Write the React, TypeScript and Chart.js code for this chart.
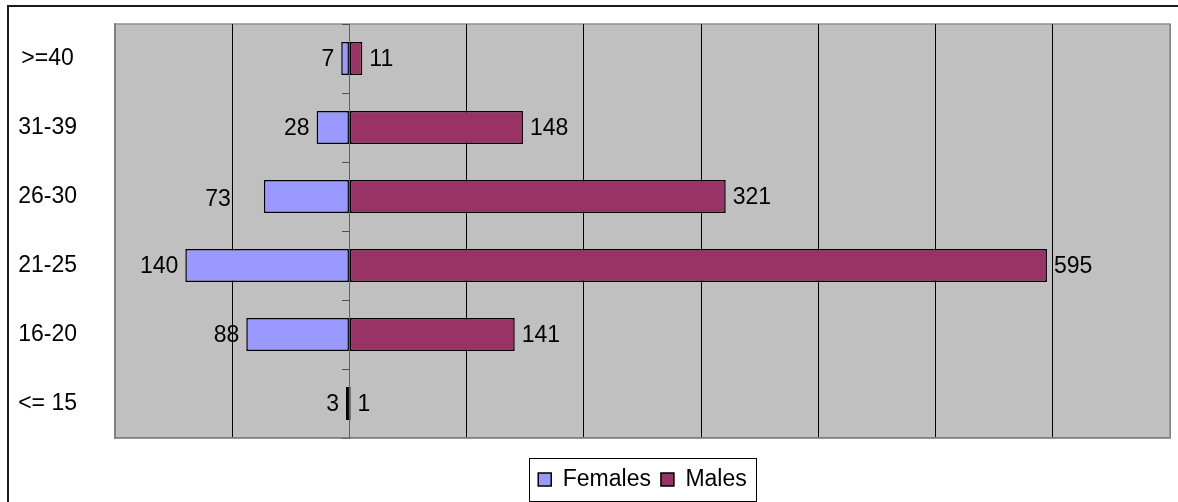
import React, { useEffect, useRef } from 'react';
import { Chart, registerables } from 'chart.js';

Chart.register(...registerables);

const ageGroups = ['>=40', '31-39', '26-30', '21-25', '16-20', '<= 15'];
const females = [7, 28, 73, 140, 88, 3];
const males = [11, 148, 321, 595, 141, 1];
const seriesNames = ['Females', 'Males'];
const axisMin = -200;
const axisMax = 700;
const axisStep = 100;

const FONT = "'Liberation Sans', Arial, Helvetica, sans-serif";
const FONT_SIZE = 23;

const plotBackground = {
  id: 'plotBackground',
  beforeDraw(chart: any) {
    const { ctx, chartArea } = chart;
    if (!chartArea) return;
    ctx.save();
    ctx.fillStyle = '#C0C0C0';
    ctx.fillRect(chartArea.left, chartArea.top, chartArea.right - chartArea.left, chartArea.bottom - chartArea.top);
    ctx.strokeStyle = '#909090';
    ctx.lineWidth = 1.5;
    ctx.strokeRect(chartArea.left, chartArea.top, chartArea.right - chartArea.left, chartArea.bottom - chartArea.top);
    ctx.restore();
  },
};

const valueLabels = {
  id: 'valueLabels',
  afterDatasetsDraw(chart: any, _args: any, opts: any) {
    const ctx = chart.ctx;
    const nudges: any[] = (opts && opts.nudges) || [];
    ctx.save();
    ctx.font = `${FONT_SIZE}px ${FONT}`;
    ctx.fillStyle = '#000';
    ctx.textBaseline = 'middle';
    chart.data.datasets.forEach((ds: any, di: number) => {
      const meta = chart.getDatasetMeta(di);
      meta.data.forEach((el: any, i: number) => {
        const v = ds.data[i] as number;
        const { x, y } = el.getProps(['x', 'y'], true);
        const n = nudges.find((q) => q.dataset === di && q.index === i);
        const dx = n ? n.dx : 0;
        const dy = n ? n.dy : 0;
        if (v < 0) {
          ctx.textAlign = 'right';
          ctx.fillText(String(-v), x - 7 + dx, y + 1 + dy);
        } else {
          ctx.textAlign = 'left';
          ctx.fillText(String(v), x + 7 + dx, y + 1 + dy);
        }
      });
    });
    ctx.restore();
  },
};

const legendFrame = {
  id: 'legendFrame',
  afterDraw(chart: any) {
    const lg = chart.legend;
    const hb = lg && lg.legendHitBoxes;
    if (!hb || !hb.length) return;
    const ctx = chart.ctx;
    const l = Math.min(...hb.map((h: any) => h.left)) - 9;
    const r = Math.max(...hb.map((h: any) => h.left + h.width)) + 9;
    const t = hb[0].top - 10;
    const b = hb[0].top + hb[0].height + 10;
    ctx.save();
    ctx.strokeStyle = '#000';
    ctx.lineWidth = 1;
    ctx.strokeRect(Math.round(l) + 0.5, Math.round(t) + 0.5, Math.round(r - l), Math.round(b - t));
    ctx.restore();
  },
};

export default function App() {
  const canvasRef = useRef<HTMLCanvasElement | null>(null);

  useEffect(() => {
    if (!canvasRef.current) return;
    const chart = new Chart(canvasRef.current, {
      type: 'bar',
      data: {
        labels: ageGroups,
        datasets: [
          {
            label: seriesNames[0],
            data: females.map((v) => -v),
            backgroundColor: '#9999FF',
            borderColor: '#000000',
            borderWidth: 1.5,
            borderSkipped: false,
            categoryPercentage: 0.48,
            barPercentage: 1.0,
          },
          {
            label: seriesNames[1],
            data: males,
            backgroundColor: '#993366',
            borderColor: '#000000',
            borderWidth: 1.5,
            borderSkipped: false,
            categoryPercentage: 0.48,
            barPercentage: 1.0,
          },
        ],
      },
      options: {
        indexAxis: 'y',
        responsive: false,
        animation: false,
        devicePixelRatio: 1,
        layout: { padding: { left: 8, right: 8, top: 24, bottom: 1 } },
        scales: {
          x: {
            type: 'linear',
            stacked: true,
            min: axisMin,
            max: axisMax,
            ticks: { display: false, stepSize: axisStep },
            grid: {
              drawTicks: false,
              lineWidth: 1,
              color: (c: any) => {
                const v = c.tick ? c.tick.value : null;
                return v === 0 || v === axisMin || v === axisMax ? '#808080' : '#000000';
              },
            },
            border: { display: true, color: '#808080', width: 1.5 },
            afterFit: (s: any) => {
              s.height = 20;
              s.paddingLeft = 0;
              s.paddingRight = 0;
            },
          },
          y: {
            type: 'category',
            stacked: true,
            position: 'left',
            grid: { display: false, drawTicks: false },
            border: { display: true, color: '#808080', width: 1.5 },
            ticks: {
              color: '#000',
              font: { family: FONT, size: FONT_SIZE },
              crossAlign: 'center',
              padding: 38,
            },
            afterFit: (s: any) => {
              s.width = 107;
              s.paddingTop = 0;
              s.paddingBottom = 0;
            },
          },
          y2: {
            type: 'category',
            axis: 'y',
            position: { x: 0 },
            offset: true,
            grid: {
              display: true,
              offset: true,
              drawOnChartArea: false,
              drawTicks: true,
              tickLength: 7,
              color: '#505050',
              lineWidth: 1,
            },
            ticks: { display: false },
            border: { display: true, color: '#606060', width: 1 },
            afterFit: (s: any) => {
              s.paddingTop = 0;
              s.paddingBottom = 0;
            },
          },
        } as any,
        plugins: {
          legend: {
            display: true,
            position: 'bottom',
            fullSize: false,
            labels: {
              boxWidth: 13,
              boxHeight: 13,
              padding: 10,
              color: '#000',
              font: { family: FONT, size: FONT_SIZE },
            },
          },
          tooltip: { enabled: false },
          title: { display: false },
          valueLabels: {
            nudges: [{ dataset: 0, index: 2, dx: -26, dy: 2 }],
          },
        } as any,
      },
      plugins: [plotBackground, valueLabels, legendFrame],
    } as any);
    return () => chart.destroy();
  }, []);

  return (
    <div>
      <div
        style={{
          position: 'fixed',
          left: 7,
          top: 5,
          right: 0,
          bottom: 0,
          borderTop: '2px solid #1a1a1a',
          borderLeft: '2px solid #1a1a1a',
          boxSizing: 'border-box',
        }}
      />
      <canvas
        ref={canvasRef}
        width={1178}
        height={502}
        style={{ position: 'fixed', left: 0, top: 0, width: 1178, height: 502, display: 'block' }}
      />
    </div>
  );
}
